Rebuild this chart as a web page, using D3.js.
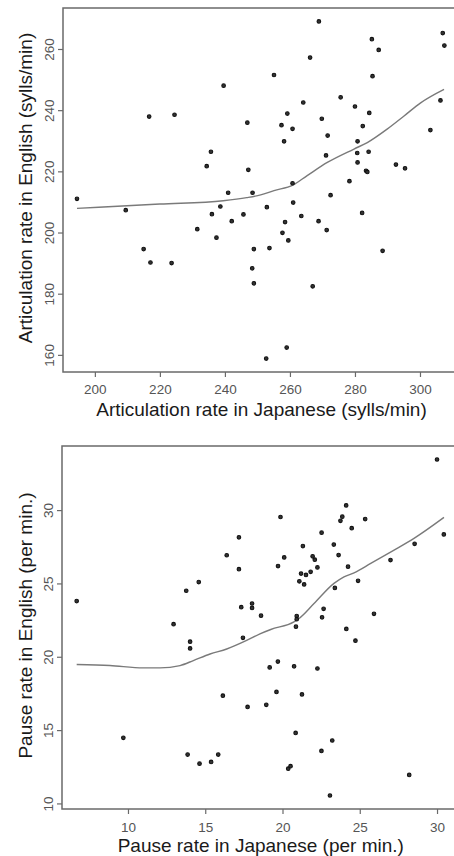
<!DOCTYPE html>
<html>
<head>
<meta charset="utf-8">
<script src="https://cdn.jsdelivr.net/npm/d3@7"></script>
<style>
  body { margin: 0; background: #fff; }
  svg { display: block; font-family: "Liberation Sans", Arial, sans-serif; }
</style>
</head>
<body>
<svg id="chart" width="454" height="856"></svg>
<script>
/*
 * Two scatter plots (Japanese vs English speech rates) with smoothed lines
 */

// Articulation rate (sylls/min), one entry per speaker
var artJapanese = [194.5, 209.5, 216.7, 224.5, 234.4, 235.7, 239.6, 241.0, 238.6, 236.0,
    246.9, 247.2, 248.5, 245.7, 252.9, 255.1, 257.4, 258.2, 259.2, 260.8,
    260.8, 261.0, 263.5, 264.1, 266.2, 268.9, 269.8, 271.6, 271.1, 272.5,
    275.6, 278.3, 280.0, 280.8, 280.7, 280.8, 282.4, 283.4, 283.8, 284.2,
    284.4, 285.2, 285.4, 287.3, 282.2, 292.6, 295.4, 303.2, 306.3, 307.0,
    307.5, 231.5, 242.1, 258.5, 268.8, 237.4, 257.7, 259.5, 271.3, 215.0,
    217.1, 223.6, 248.9, 253.7, 288.5, 248.4, 248.9, 267.0, 259.0, 252.7];
var artEnglish = [211.0, 207.3, 237.9, 238.5, 221.7, 226.4, 248.0, 213.0, 208.5, 206.0,
    235.9, 220.5, 213.0, 205.9, 208.3, 251.5, 235.1, 229.8, 238.9, 233.9,
    216.1, 209.8, 205.4, 242.5, 257.2, 269.0, 237.2, 231.7, 225.2, 212.2,
    244.2, 216.8, 241.2, 229.8, 226.0, 222.9, 234.8, 220.2, 219.8, 226.4,
    239.1, 263.2, 251.1, 259.7, 206.4, 222.2, 221.0, 233.5, 243.2, 265.2,
    261.1, 201.1, 203.7, 203.4, 203.7, 198.3, 199.9, 197.4, 200.8, 194.6,
    190.2, 190.0, 194.6, 194.9, 194.0, 188.3, 183.4, 182.4, 162.4, 158.8];

// smoother
var artSmoothX = [194.5, 220.0, 239.5, 246.7, 251.0, 255.1, 260.9, 265.3, 271.5, 279.7, 283.8, 289.9, 295.1, 300.2, 307.4];
var artSmoothY = [207.9, 209.3, 210.4, 211.4, 212.3, 213.7, 215.5, 218.6, 222.9, 227.3, 229.4, 233.8, 238.1, 242.4, 246.8];

// Pause rate (per min.)
var pauseJapanese = [6.68, 12.95, 13.77, 14.58, 16.39, 17.18, 17.18, 17.33, 18.03, 18.03,
    18.61, 19.71, 19.87, 20.11, 20.87, 20.92, 20.92, 21.09, 21.20, 21.40,
    21.32, 21.52, 21.82, 21.95, 22.09, 22.26, 22.53, 22.56, 22.66, 23.32,
    23.39, 23.63, 23.75, 23.87, 24.12, 24.24, 24.48, 24.89, 25.35, 24.13,
    25.92, 26.99, 28.55, 30.00, 30.44, 24.72, 14.02, 14.02, 17.44, 19.17,
    19.70, 20.75, 22.26, 16.14, 19.61, 21.26, 17.74, 18.95, 20.85, 23.22,
    9.70, 13.86, 14.63, 15.38, 15.84, 22.52, 20.37, 20.52, 28.20, 23.07];
var pauseEnglish = [23.80, 22.22, 24.50, 25.09, 26.92, 28.14, 25.97, 23.38, 23.63, 23.33,
    22.80, 26.18, 29.53, 26.77, 22.05, 22.78, 22.56, 25.14, 25.67, 24.93,
    27.55, 25.58, 25.79, 26.85, 26.62, 26.09, 28.46, 22.69, 23.27, 27.65,
    24.69, 26.93, 29.27, 29.55, 30.32, 26.14, 28.77, 25.18, 29.39, 21.90,
    22.93, 26.59, 27.70, 33.45, 28.34, 21.10, 21.03, 20.57, 21.29, 19.27,
    19.67, 19.35, 19.20, 17.35, 17.60, 17.43, 16.58, 16.72, 14.81, 14.29,
    14.47, 13.33, 12.71, 12.83, 13.33, 13.58, 12.37, 12.54, 11.94, 10.54];

var pauseSmoothX = [6.68, 8.83, 10.99, 12.07, 13.37, 14.23, 15.31, 16.39, 17.68, 18.54, 19.24, 20.74, 21.07, 22.04, 23.33, 23.98, 24.63, 25.71, 27.22, 28.51, 30.45];
var pauseSmoothY = [19.47, 19.40, 19.24, 19.24, 19.40, 19.74, 20.19, 20.53, 21.11, 21.56, 21.86, 22.38, 22.61, 23.63, 25.00, 25.45, 25.72, 26.36, 27.27, 28.07, 29.50];

// tick values
var artXTicks = [200, 220, 240, 260, 280, 300];
var artYTicks = [160, 180, 200, 220, 240, 260];
var pauseXTicks = [10, 15, 20, 25, 30];
var pauseYTicks = [10, 15, 20, 25, 30];


var svg = d3.select("#chart");


/* ==========================================================================
 * One panel
 * ========================================================================== */

function drawPanel(opt) {
    var x = d3.scaleLinear().domain(opt.xDomain).range([opt.left, opt.right]);
    var y = d3.scaleLinear().domain(opt.yDomain).range([opt.bottom, opt.top]);
    var g = svg.append("g");

    // box round the plot region
    g.append("rect")
        .attr("x", opt.left)
        .attr("y", opt.top)
        .attr("width", opt.right - opt.left)
        .attr("height", opt.bottom - opt.top)
        .attr("fill", "none")
        .attr("stroke", "#6a6a6a")
        .attr("stroke-width", 1.5);

    // x axis
    var xa = g.append("g")
        .attr("transform", "translate(0," + opt.bottom + ")")
        .call(d3.axisBottom(x).tickValues(opt.xTicks).tickSize(5).tickPadding(opt.xPad).tickSizeOuter(0));
    xa.select(".domain").remove();

    // y axis, labels turned to run along the axis
    var ya = g.append("g")
        .attr("transform", "translate(" + opt.left + ",0)")
        .call(d3.axisLeft(y).tickValues(opt.yTicks).tickSize(5).tickSizeOuter(0));
    ya.select(".domain").remove();
    ya.selectAll("text")
        .attr("transform", "rotate(-90)")
        .attr("text-anchor", "middle")
        .attr("x", 0)
        .attr("y", -9.5)
        .attr("dy", null);

    g.selectAll(".tick line").attr("stroke", "#6a6a6a").attr("stroke-width", 1.2);
    g.selectAll(".tick text")
        .attr("fill", "#555")
        .style("font-size", "13.5px")
        .style("font-family", "'Liberation Sans', Arial, sans-serif");

    // smoother
    var pts = opt.sx.map(function(v, i) { return [v, opt.sy[i]]; });
    g.append("path")
        .datum(pts)
        .attr("fill", "none")
        .attr("stroke", "#7a7a7a")
        .attr("stroke-width", 1.4)
        .attr("d", d3.line()
            .x(function(d) { return x(d[0]); })
            .y(function(d) { return y(d[1]); })
            .curve(d3.curveMonotoneX));

    // points
    g.selectAll("circle.pt")
        .data(opt.px)
        .enter().append("circle")
        .attr("class", "pt")
        .attr("cx", function(d) { return x(d); })
        .attr("cy", function(d, i) { return y(opt.py[i]); })
        .attr("r", 1.8)
        .attr("fill", "#333")
        .attr("stroke", "#111")
        .attr("stroke-width", 1.1);

    // axis titles
    g.append("text")
        .attr("x", (opt.left + opt.right) / 2 + 0.5)
        .attr("y", opt.xTitleY)
        .attr("text-anchor", "middle")
        .attr("fill", "#1a1a1a")
        .style("font-size", "19px")
        .text(opt.xTitle);

    g.append("text")
        .attr("transform", "translate(32," + ((opt.top + opt.bottom) / 2 - 2) + ") rotate(-90)")
        .attr("text-anchor", "middle")
        .attr("fill", "#1a1a1a")
        .style("font-size", "19px")
        .text(opt.yTitle);
}


/* ==========================================================================
 * Draw both
 * ========================================================================== */

drawPanel({
    left: 63, right: 459, top: 8, bottom: 372,
    xDomain: [190.2, 312.0], yDomain: [154.4, 273.4],
    xTicks: artXTicks, yTicks: artYTicks, xPad: 7,
    px: artJapanese, py: artEnglish, sx: artSmoothX, sy: artSmoothY,
    xTitle: "Articulation rate in Japanese (sylls/min)",
    yTitle: "Articulation rate in English (sylls/min)",
    xTitleY: 416
});

drawPanel({
    left: 62, right: 458.5, top: 446, bottom: 809,
    xDomain: [5.73, 31.39], yDomain: [9.62, 34.37],
    xTicks: pauseXTicks, yTicks: pauseYTicks, xPad: 8,
    px: pauseJapanese, py: pauseEnglish, sx: pauseSmoothX, sy: pauseSmoothY,
    xTitle: "Pause rate in Japanese (per min.)",
    yTitle: "Pause rate in English (per min.)",
    xTitleY: 852
});
</script>
</body>
</html>
